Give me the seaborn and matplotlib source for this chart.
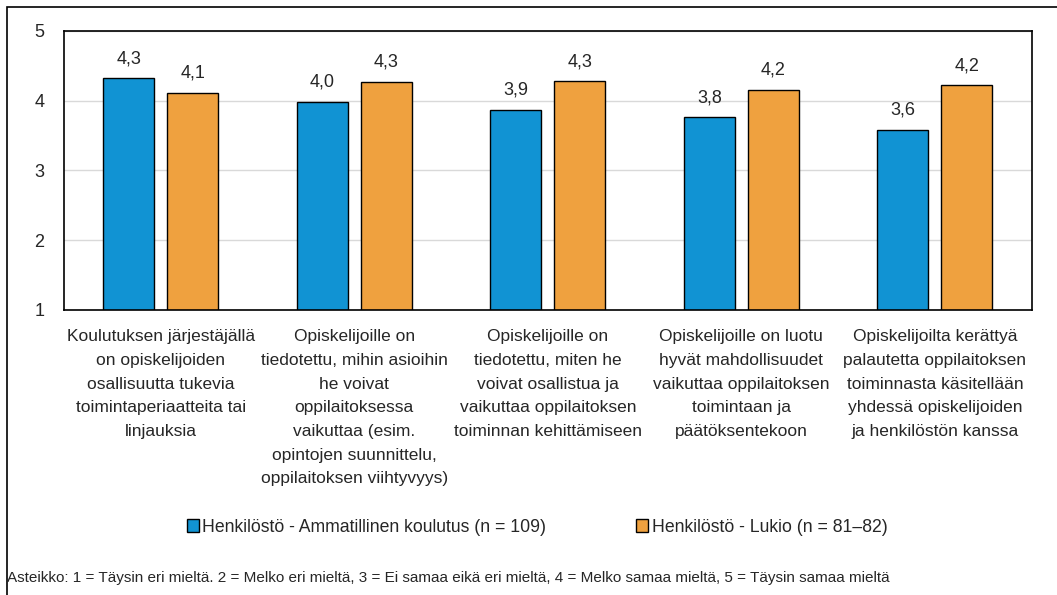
import pandas as pd
import numpy as np
import matplotlib.pyplot as plt
import seaborn as sns
from matplotlib.patches import Rectangle

# --- DATOS ---
kategoriat = [
    "Koulutuksen järjestäjällä\non opiskelijoiden\nosallisuutta tukevia\ntoimintaperiaatteita tai\nlinjauksia",
    "Opiskelijoille on\ntiedotettu, mihin asioihin\nhe voivat\noppilaitoksessa\nvaikuttaa (esim.\nopintojen suunnittelu,\noppilaitoksen viihtyvyys)",
    "Opiskelijoille on\ntiedotettu, miten he\nvoivat osallistua ja\nvaikuttaa oppilaitoksen\ntoiminnan kehittämiseen",
    "Opiskelijoille on luotu\nhyvät mahdollisuudet\nvaikuttaa oppilaitoksen\ntoimintaan ja\npäätöksentekoon",
    "Opiskelijoilta kerättyä\npalautetta oppilaitoksen\ntoiminnasta käsitellään\nyhdessä opiskelijoiden\nja henkilöstön kanssa",
]
sarjat = ["Henkilöstö - Ammatillinen koulutus (n = 109)", "Henkilöstö - Lukio (n = 81–82)"]
ammatillinen = [4.32, 3.98, 3.87, 3.76, 3.58]
lukio = [4.11, 4.27, 4.28, 4.16, 4.22]
varit = ["#1193D3", "#EFA13F"]
alaviite = ("Asteikko: 1 = Täysin eri mieltä. 2 = Melko eri mieltä, 3 = Ei samaa eikä eri mieltä, "
            "4 = Melko samaa mieltä, 5 = Täysin samaa mieltä")

df = pd.DataFrame({
    "kategoria": kategoriat * 2,
    "sarja": [sarjat[0]] * 5 + [sarjat[1]] * 5,
    "arvo": ammatillinen + lukio,
})

# --- ESTILO ---
sns.set_style("white")
plt.rcParams["font.family"] = ["Liberation Sans", "DejaVu Sans"]

fig = plt.figure(figsize=(10.57, 5.95), dpi=100)
ax = fig.add_axes([0.0606, 0.479, 0.9154, 0.469])

sns.barplot(data=df, x="kategoria", y="arvo", hue="sarja", hue_order=sarjat,
            palette=varit, width=0.66, gap=0.2, edgecolor="black", linewidth=1,
            saturation=1, ax=ax, legend=True)

ax.set_ylim(1, 5)
ax.set_yticks([1, 2, 3, 4, 5])
ax.yaxis.grid(True, color="#D9D9D9", lw=1)
ax.set_axisbelow(True)
ax.set_xlabel("")
ax.set_ylabel("")
ax.tick_params(axis="y", length=0, pad=14, labelsize=13)
ax.tick_params(axis="x", length=0, pad=14, labelsize=12.5)
for lbl in ax.get_xticklabels():
    lbl.set_linespacing(1.72)
for s in ax.spines.values():
    s.set_color("black")
    s.set_linewidth(1.2)

for cont in ax.containers:
    ax.bar_label(cont, labels=[f"{b.get_height():.1f}".replace(".", ",") for b in cont],
                 padding=8, fontsize=13)

handles, labels = ax.get_legend_handles_labels()
ax.get_legend().remove()
fig.legend(handles, labels, loc="center", bbox_to_anchor=(0.508, 0.114), ncol=2,
           frameon=False, fontsize=12.7, handlelength=0.68, handleheight=0.68,
           handletextpad=0.2, columnspacing=5.1)

fig.text(0.007, 0.029, alaviite, fontsize=11, va="center", ha="left")

# kehys (vain vasen ja ylä reuna näkyvät)
fig.patches.append(Rectangle((0.0066, -0.05), 1.1, 1.038, transform=fig.transFigure,
                             fill=False, edgecolor="black", lw=1.2))

fig.savefig("out.png", dpi=100)
